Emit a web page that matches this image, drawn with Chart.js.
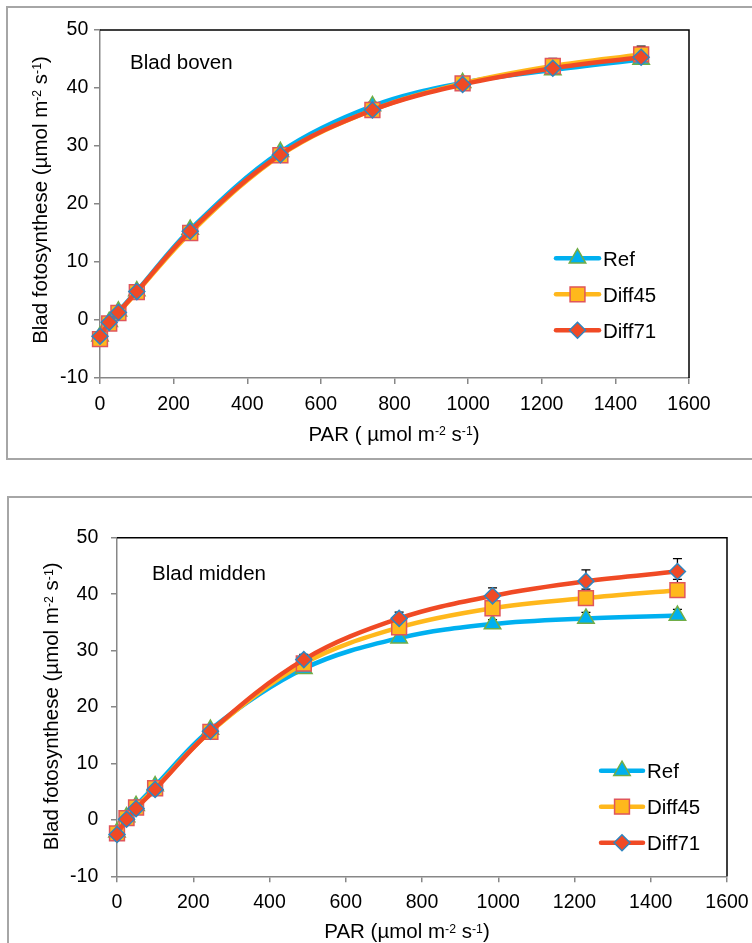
<!DOCTYPE html>
<html><head><meta charset="utf-8">
<script src="https://cdn.jsdelivr.net/npm/chart.js@4.4.1/dist/chart.umd.min.js"></script>
<style>
html,body{margin:0;padding:0;background:#fff;width:752px;height:943px;overflow:hidden;position:relative;}
.box{position:absolute;box-sizing:border-box;border:2px solid #a6a6a6;width:790px;}
#box1{left:6px;top:6px;height:454px;}
#box2{left:7px;top:496px;height:490px;}
canvas{position:absolute;left:0;}
#c1{top:0}
#c2{top:470px}
</style></head><body>
<div class="box" id="box1"></div><div class="box" id="box2"></div>
<canvas id="c1" width="752" height="470"></canvas>
<canvas id="c2" width="752" height="473"></canvas>
<script>
// ---------------- data ----------------
const parX = [0, 25, 50, 100, 245, 490, 740, 985, 1230, 1470];
const xTickValues = [0, 200, 400, 600, 800, 1000, 1200, 1400, 1600];
const yTickValues = [-10, 0, 10, 20, 30, 40, 50];
const seriesNames = ['Ref', 'Diff45', 'Diff71'];

const bovenRef    = [-2.8, -0.3, 1.5, 5.0, 15.6, 29.0, 36.9, 40.9, 43.1, 44.9];
const bovenDiff45 = [-3.3, -0.6, 1.2, 4.8, 15.0, 28.4, 36.2, 40.8, 43.8, 45.8];
const bovenDiff71 = [-2.8, -0.4, 1.3, 4.9, 15.3, 28.5, 36.2, 40.6, 43.4, 45.3];
const bovenErrRef    = [0.1, 0.1, 0.1, 0.2, 0.3, 0.5, 0.6, 0.5, 0.6, 0.6];
const bovenErrDiff45 = [0.1, 0.1, 0.1, 0.2, 0.4, 0.6, 0.8, 0.9, 1.3, 1.4];
const bovenErrDiff71 = [0.1, 0.1, 0.1, 0.2, 0.3, 0.5, 0.6, 0.6, 0.7, 0.7];

const middenRef    = [-2.2, 0.5, 2.5, 6.0, 16.0, 26.8, 32.2, 34.7, 35.7, 36.2];
const middenDiff45 = [-2.4, 0.3, 2.2, 5.6, 15.6, 27.7, 34.1, 37.5, 39.3, 40.7];
const middenDiff71 = [-2.6, 0.1, 2.0, 5.4, 15.7, 28.4, 35.7, 39.7, 42.3, 44.0];
const middenErrRef    = [0.1, 0.2, 0.3, 0.4, 0.5, 0.8, 0.8, 0.8, 1.05, 1.1];
const middenErrDiff45 = [0.1, 0.2, 0.3, 0.4, 0.5, 0.8, 1.0, 1.3, 1.6, 1.9];
const middenErrDiff71 = [0.1, 0.2, 0.3, 0.4, 0.5, 0.9, 1.1, 1.4, 2.0, 2.3];

// ---------------- styles ----------------
const FONT = '"Liberation Sans", Arial, sans-serif';
const seriesStyles = [
  {borderColor:'#00B0F0', pointBackgroundColor:'#00B0F0', pointBorderColor:'#70AD47', pointStyle:'triangle', pointRadius:9.5},
  {borderColor:'#FFB81C', pointBackgroundColor:'#FFB81C', pointBorderColor:'#E0565B', pointStyle:'rect', pointRadius:10.5},
  {borderColor:'#F04A25', pointBackgroundColor:'#F04A25', pointBorderColor:'#2E86C1', pointStyle:'rectRot', pointRadius:8}
];
const yTitleParts = [['Blad fotosynthese (µmol m',0],['-2',1],[' s',0],['-1',1],[')',0]];

function drawRich(ctx, parts, cx, base, size, rotate) {
  const sup = size * 0.6;
  const widths = parts.map(p => { ctx.font = (p[1] ? sup : size) + 'px ' + FONT; return ctx.measureText(p[0]).width; });
  const total = widths.reduce((a, b) => a + b, 0);
  ctx.save();
  ctx.translate(cx, base);
  if (rotate) ctx.rotate(-Math.PI / 2);
  ctx.textAlign = 'left'; ctx.textBaseline = 'alphabetic'; ctx.fillStyle = '#000';
  let x = -total / 2;
  parts.forEach((p, i) => {
    ctx.font = (p[1] ? sup : size) + 'px ' + FONT;
    ctx.fillText(p[0], x, p[1] ? -size * 0.28 : 0);
    x += widths[i];
  });
  ctx.restore();
}

function drawMarker(ctx, st, x, y) {
  ctx.save();
  ctx.fillStyle = st.pointBackgroundColor;
  ctx.strokeStyle = st.pointBorderColor;
  ctx.lineWidth = 1.5;
  if (Chart.helpers && Chart.helpers.drawPoint) {
    Chart.helpers.drawPoint(ctx, {pointStyle: st.pointStyle, radius: st.pointRadius, borderWidth: 1.5, rotation: 0}, x, y);
  }
  ctx.restore();
}

const decoPlugin = {
  id: 'deco',
  beforeDatasetsDraw(chart) {
    const ctx = chart.ctx, a = chart.chartArea, L = chart.options.plugins.deco;
    ctx.save();
    ctx.strokeStyle = '#000'; ctx.lineWidth = 1.5;
    ctx.beginPath(); ctx.moveTo(a.left, a.top); ctx.lineTo(a.right, a.top); ctx.lineTo(a.right, a.bottom); ctx.stroke();
    const xs = chart.scales.x, ys = chart.scales.y;
    ctx.strokeStyle = '#000'; ctx.lineWidth = 1.3;
    L.errs.forEach((errArr, i) => {
      const vals = L.series[i];
      errArr.forEach((e, j) => {
        const px = xs.getPixelForValue(parX[j]);
        const y0 = ys.getPixelForValue(vals[j]);
        const y1 = ys.getPixelForValue(vals[j] + e);
        ctx.beginPath(); ctx.moveTo(px, y0); ctx.lineTo(px, y1);
        ctx.moveTo(px - 4.5, y1); ctx.lineTo(px + 4.5, y1); ctx.stroke();
      });
    });
    ctx.restore();
  },
  afterDraw(chart) {
    const ctx = chart.ctx, L = chart.options.plugins.deco;
    ctx.save();
    ctx.fillStyle = '#000'; ctx.textAlign = 'left'; ctx.textBaseline = 'alphabetic';
    ctx.font = '20.5px ' + FONT;
    ctx.fillText(L.panel, L.panelX, L.panelY);
    drawRich(ctx, L.xTitle, L.xTitleX, L.xTitleY, 20.5, false);
    drawRich(ctx, yTitleParts, L.yTitleX, L.yTitleY, 20.5, true);
    seriesNames.forEach((name, i) => {
      const st = seriesStyles[i];
      const y = L.legY + i * 36;
      ctx.strokeStyle = st.borderColor; ctx.lineWidth = 4.5; ctx.lineCap = 'round';
      ctx.beginPath(); ctx.moveTo(L.legX0, y); ctx.lineTo(L.legX1, y); ctx.stroke();
      drawMarker(ctx, st, (L.legX0 + L.legX1) / 2, y);
      ctx.fillStyle = '#000'; ctx.font = '20.5px ' + FONT;
      ctx.fillText(name, L.legTextX, y + 7.3);
    });
    ctx.restore();
  }
};

function makeChart(id, series, errs, L) {
  const datasets = series.map((vals, i) => Object.assign({
    label: seriesNames[i],
    data: parX.map((x, j) => ({x: x, y: vals[j]})),
    borderWidth: 4.5,
    pointBorderWidth: 1.5,
    pointHoverRadius: 0,
    tension: 0.35,
    fill: false,
    clip: false,
    order: 3 - i
  }, seriesStyles[i]));
  const tickFont = {family: FONT, size: 19.5};
  return new Chart(document.getElementById(id), {
    type: 'line',
    data: {datasets: datasets},
    options: {
      responsive: false, animation: false,
      layout: {padding: L.padding},
      plugins: {legend: {display: false}, tooltip: {enabled: false},
        deco: Object.assign({series: series, errs: errs}, L)},
      scales: {
        x: {type: 'linear', min: 0, max: 1600,
          afterBuildTicks: s => { s.ticks = xTickValues.map(v => ({value: v})); },
          ticks: {font: tickFont, color: '#000', padding: L.xPad, maxRotation: 0, autoSkip: false, callback: v => String(v)},
          grid: {drawOnChartArea: false, drawTicks: true, tickLength: 6, color: '#878787', lineWidth: 1.5},
          border: {display: true, color: '#878787', width: 1.5},
          afterFit: s => { s.height = L.xAxisH; s.paddingLeft = 0; s.paddingRight = 0; }
        },
        y: {type: 'linear', min: -10, max: 50,
          afterBuildTicks: s => { s.ticks = yTickValues.map(v => ({value: v})); },
          ticks: {font: tickFont, color: '#000', padding: L.yPad, callback: v => String(v)},
          grid: {drawOnChartArea: false, drawTicks: true, tickLength: 6, color: '#878787', lineWidth: 1.5},
          border: {display: true, color: '#878787', width: 1.5},
          afterFit: s => { s.width = L.yAxisW; s.paddingTop = 0; s.paddingBottom = 0; }
        }
      }
    },
    plugins: [decoPlugin]
  });
}

makeChart('c1', [bovenRef, bovenDiff45, bovenDiff71], [bovenErrRef, bovenErrDiff45, bovenErrDiff71], {
  padding: {left: 0, top: 30, right: 63, bottom: 0},
  yAxisW: 100, xAxisH: 92, xPad: 9, yPad: 5.7,
  panel: 'Blad boven', panelX: 130, panelY: 68.5,
  xTitle: [['PAR ( µmol m',0],['-2',1],[' s',0],['-1',1],[')',0]], xTitleX: 394, xTitleY: 440.7,
  yTitleX: 46.5, yTitleY: 200,
  legX0: 556, legX1: 599, legTextX: 603, legY: 258.3
});

makeChart('c2', [middenRef, middenDiff45, middenDiff71], [middenErrRef, middenErrDiff45, middenErrDiff71], {
  padding: {left: 0, top: 67.7, right: 25, bottom: 0},
  yAxisW: 117, xAxisH: 66.7, xPad: 9, yPad: 12.7,
  panel: 'Blad midden', panelX: 152, panelY: 110,
  xTitle: [['PAR (µmol m',0],['-2',1],[' s',0],['-1',1],[')',0]], xTitleX: 407, xTitleY: 468.3,
  yTitleX: 58.3, yTitleY: 236.3,
  legX0: 601, legX1: 643, legTextX: 647, legY: 300.7
});
</script></body></html>
